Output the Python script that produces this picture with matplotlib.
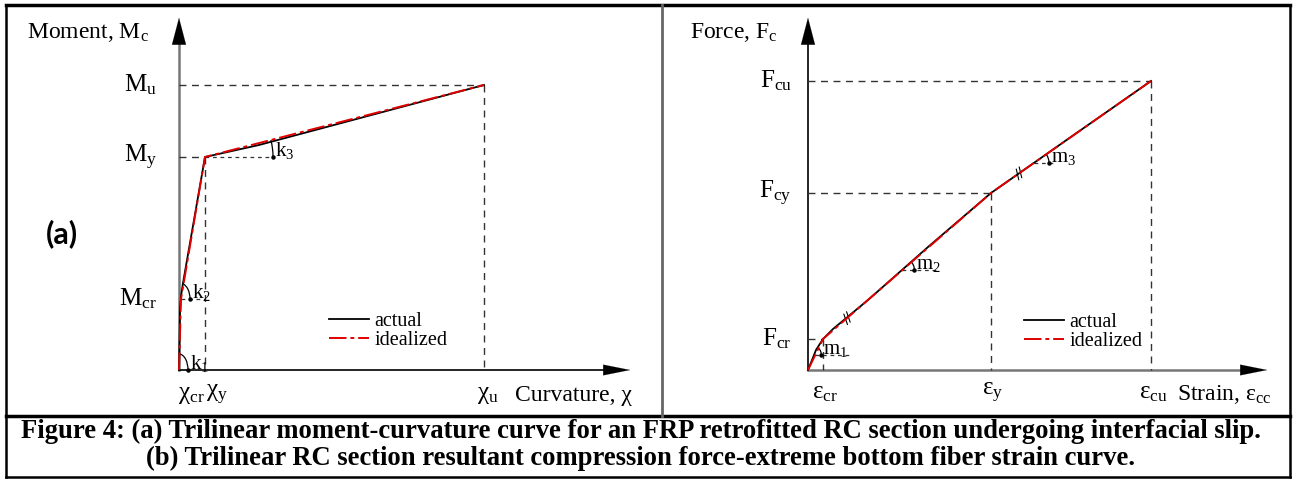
import numpy as np
import matplotlib
matplotlib.use('Agg')
import matplotlib.pyplot as plt
from matplotlib.patches import Arc

plt.rcParams['font.family'] = ['Liberation Serif', 'DejaVu Serif']
plt.rcParams['mathtext.fontset'] = 'custom'
plt.rcParams['mathtext.rm'] = 'Liberation Serif'
plt.rcParams['mathtext.it'] = 'Liberation Serif:italic'

# (a) moment-curvature, schematic units
chi_actual = [0, 1, 2, 4, 26, 80, 170, 305]
m_actual = [0, 60, 74, 87, 213, 225, 249, 285]
chi_ideal = [0, 2, 26, 305]
m_ideal = [0, 71, 213, 285]
m_levels = [71, 213, 285]
m_labels = ['M$_{\\mathrm{cr}}$', 'M$_{\\mathrm{y}}$', 'M$_{\\mathrm{u}}$']
chi_labels = ['χ$_{\\mathrm{cr}}$', 'χ$_{\\mathrm{y}}$', 'χ$_{\\mathrm{u}}$']

# (b) force-strain, schematic units
eps_actual = [0, 8, 15, 25, 60, 120, 183, 260, 343]
f_actual = [0, 20, 31, 41, 70, 123, 177, 231, 289]
eps_ideal = [0, 15, 183, 343]
f_ideal = [0, 31, 177, 289]
f_labels = ['F$_{\\mathrm{cr}}$', 'F$_{\\mathrm{cy}}$', 'F$_{\\mathrm{cu}}$']
eps_labels = ['ε$_{\\mathrm{cr}}$', 'ε$_{\\mathrm{y}}$', 'ε$_{\\mathrm{cu}}$']

W, H = 1293, 479
fig = plt.figure(figsize=(W / 100, H / 100), dpi=100)

# background axes in pixel units for frame and caption
bg = fig.add_axes([0, 0, 1, 1])
bg.set_xlim(0, W)
bg.set_ylim(H, 0)
bg.axis('off')
bg.plot([6, 1290], [5, 5], color='k', lw=2.5)
bg.plot([6, 6], [5, 477], color='k', lw=1.8)
bg.plot([1290, 1290], [5, 477], color='k', lw=1.8)
bg.plot([6, 1290], [477, 477], color='k', lw=1.8)
bg.plot([6, 1290], [416, 416], color='k', lw=2.5)
bg.plot([662, 662], [5, 416], color='#666666', lw=2)
bg.text(641, 431, 'Figure 4: (a) Trilinear moment-curvature curve for an FRP retrofitted RC section undergoing interfacial slip.',
        ha='center', va='center', fontsize=19.2, fontweight='bold')
bg.text(641, 458, '(b) Trilinear RC section resultant compression force-extreme bottom fiber strain curve.',
        ha='center', va='center', fontsize=19.2, fontweight='bold')


def panel(x0, x1, ox):
    ax = fig.add_axes([x0 / W, (H - 416) / H, (x1 - x0) / W, 411 / H])
    ax.set_xlim(x0 - ox, x1 - ox)
    ax.set_ylim(370 - 416, 370 - 5)
    ax.axis('off')
    return ax


def axis_arrows(ax, xtip, ycol, xcol):
    ax.plot([0, 0], [0, 335], color=ycol, lw=1.8 if ycol != 'k' else 1.2, zorder=1)
    ax.plot([0, xtip - 20], [0, 0], color=xcol, lw=1.8 if xcol != 'k' else 1.2, zorder=1)
    ax.annotate('', xy=(0, 355), xytext=(0, 325),
                arrowprops=dict(arrowstyle='-|>,head_length=1.6,head_width=0.42',
                                color='k', lw=0.1, mutation_scale=12))
    ax.annotate('', xy=(xtip, 0), xytext=(xtip - 30, 0),
                arrowprops=dict(arrowstyle='-|>,head_length=1.6,head_width=0.32',
                                color='k', lw=0.1, mutation_scale=12))


def guide(ax, x, y):
    kw = dict(color='#333333', lw=1, dashes=(5, 4), zorder=1)
    ax.plot([0, x], [y, y], **kw)
    ax.plot([x, x], [y, 0], **kw)


def angle_mark(ax, cx, cy, rx, ry, ang, label, dash=0):
    if dash:
        ax.plot([cx, cx + dash], [cy, cy], color='#333333', lw=0.9, dashes=(3, 3))
    ax.add_patch(Arc((cx, cy), 2 * rx, 2 * ry, theta1=0, theta2=ang, color='k', lw=0.9))
    ax.plot([cx + rx], [cy], 'o', color='k', ms=2.2)
    ax.text(cx + rx + 2, cy + 1, label, fontsize=15, ha='left', va='baseline')


def break_mark(ax, xs, ys, x):
    i = np.searchsorted(xs, x) - 1
    dx, dy = xs[i + 1] - xs[i], ys[i + 1] - ys[i]
    n = np.hypot(dx, dy)
    ux, uy = dx / n, dy / n
    y = ys[i] + dy / dx * (x - xs[i])
    for s in (-1.8, 1.8):
        px, py = x + ux * s, y + uy * s
        ax.plot([px - uy * 5 + ux * 2, px + uy * 5 - ux * 2],
                [py + ux * 5 + uy * 2, py - ux * 5 - uy * 2], color='k', lw=0.8)


lab = dict(fontsize=17)
lvl = dict(fontsize=18)

# ---------- panel (a)
ax = panel(6, 662, 179)
axis_arrows(ax, 454, '#777777', 'k')
guide(ax, chi_ideal[3], m_ideal[3])
guide(ax, chi_ideal[2], m_ideal[2])
ax.plot([chi_ideal[1], chi_ideal[2]], [m_ideal[1], m_ideal[1]], color='#333333', lw=0.9, dashes=(3, 3))
la, = ax.plot(chi_actual, m_actual, color='k', lw=1.3, label='actual', zorder=3)
li, = ax.plot(chi_ideal, m_ideal, color='#e00000', lw=1.4, dashes=(9, 2, 2, 2), label='idealized', zorder=4)
angle_mark(ax, 0, 0, 9, 16, 88, 'k$_{\\mathrm{1}}$')
angle_mark(ax, 1, 71, 10, 16, 80, 'k$_{\\mathrm{2}}$')
angle_mark(ax, 26, 213, 68, 68, 14.5, 'k$_{\\mathrm{3}}$', dash=68)
ax.text(-152, 337, 'Moment, M$_{\\mathrm{c}}$', ha='left', va='center', **lab)
for y, t in zip(m_levels, m_labels):
    ax.text(-22, y, t, ha='right', va='center', **lvl)
for x, t in zip([chi_ideal[1] + 10, chi_ideal[2] + 12, chi_ideal[3] + 4], chi_labels):
    ax.text(x, -25, t, ha='center', va='center', **lvl)
ax.text(336, -25, 'Curvature, χ', ha='left', va='center', **lab)
ax.text(-117, 136, '(a)', ha='center', va='center', fontsize=22, fontweight='bold', family='Lato')
ax.legend(handles=[la, li], loc='center left', bbox_to_anchor=(150, 39), bbox_transform=ax.transData,
          frameon=False, fontsize=14.5, handlelength=2.0, handletextpad=0.25, labelspacing=0.0,
          borderpad=0, borderaxespad=0)

# ---------- panel (b)
bx = panel(662, 1290, 808)
axis_arrows(bx, 462, 'k', '#777777')
for x, y in zip(eps_ideal[1:], f_ideal[1:]):
    guide(bx, x, y)
ba, = bx.plot(eps_actual, f_actual, color='k', lw=1.3, label='actual', zorder=3)
bi, = bx.plot(eps_ideal, f_ideal, color='#e00000', lw=1.4, dashes=(9, 2, 2, 2), label='idealized', zorder=4)
break_mark(bx, eps_ideal, f_ideal, 39)
break_mark(bx, eps_ideal, f_ideal, 211)
angle_mark(bx, 7.3, 15, 6, 8, 64, 'm$_{\\mathrm{1}}$', dash=36)
angle_mark(bx, 94.4, 100, 12, 12, 41, 'm$_{\\mathrm{2}}$', dash=36)
angle_mark(bx, 226, 207, 15, 15, 35, 'm$_{\\mathrm{3}}$', dash=20)
bx.text(-118, 337, 'Force, F$_{\\mathrm{c}}$', ha='left', va='center', **lab)
for y, t in zip(f_ideal[1:], f_labels):
    bx.text(-16, y, t, ha='right', va='center', **lvl)
for x, t in zip(eps_ideal[1:], eps_labels):
    bx.text(x + 2, -23, t, ha='center', va='center', **lvl)
bx.text(369, -25, 'Strain, ε$_{\\mathrm{cc}}$', ha='left', va='center', **lab)
bx.legend(handles=[ba, bi], loc='center left', bbox_to_anchor=(216, 38), bbox_transform=bx.transData,
          frameon=False, fontsize=14.5, handlelength=2.0, handletextpad=0.25, labelspacing=0.0,
          borderpad=0, borderaxespad=0)

fig.savefig('out.png', dpi=100)
